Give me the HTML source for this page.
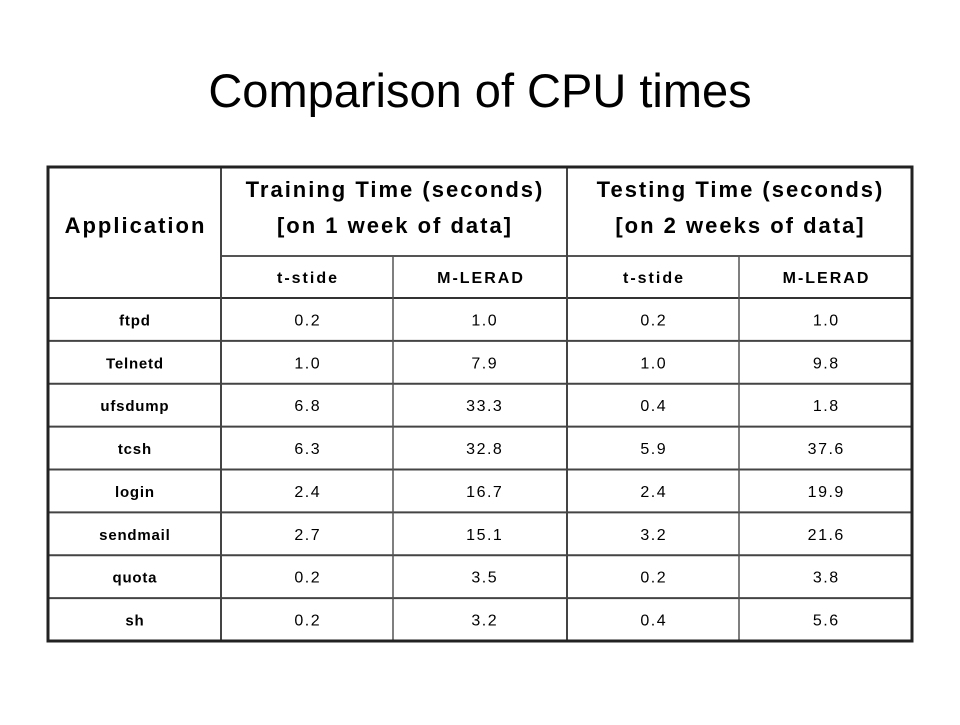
<!DOCTYPE html>
<html><head><meta charset="utf-8"><style>
body{margin:0;background:#fff;width:960px;height:720px;overflow:hidden;font-family:"Liberation Sans",Arial,sans-serif}
</style></head><body>
<svg width="960" height="720" xmlns="http://www.w3.org/2000/svg" font-family="Liberation Sans, Arial, sans-serif">
<text x="480" y="107" text-anchor="middle" font-size="47" fill="#000">Comparison of CPU times</text>
<g id="grid"></g>
<g id="cells"></g>
</svg>
<script>
const apps=["ftpd","Telnetd","ufsdump","tcsh","login","sendmail","quota","sh"];
const trainTstide=["0.2","1.0","6.8","6.3","2.4","2.7","0.2","0.2"];
const trainMlerad=["1.0","7.9","33.3","32.8","16.7","15.1","3.5","3.2"];
const testTstide=["0.2","1.0","0.4","5.9","2.4","3.2","0.2","0.4"];
const testMlerad=["1.0","9.8","1.8","37.6","19.9","21.6","3.8","5.6"];
const NS="http://www.w3.org/2000/svg";
const grid=document.getElementById('grid'),cells=document.getElementById('cells');
const L=48,R=912,T=167,H1=256,H2=298,rowH=(641-298)/apps.length;
const B=H2+rowH*apps.length;
const cx=[221,393,567,739];
function line(x1,y1,x2,y2,w,c,name){const l=document.createElementNS(NS,'line');
l.setAttribute('x1',x1);l.setAttribute('y1',y1);l.setAttribute('x2',x2);l.setAttribute('y2',y2);
l.setAttribute('stroke',c);l.setAttribute('stroke-width',w);


grid.appendChild(l);}
function txt(x,y,s,size,bold,ls,name){const t=document.createElementNS(NS,'text');
t.setAttribute('x',x+ls/2);t.setAttribute('y',y);t.setAttribute('text-anchor','middle');
t.setAttribute('font-size',size);if(bold)t.setAttribute('font-weight','bold');
t.setAttribute('letter-spacing',ls);t.textContent=s;


cells.appendChild(t);}
line(L,H2,R,H2,2,'#333','header-bottom-line');
line(cx[0],H1,R,H1,2,'#555','group-header-line');
for(let i=1;i<apps.length;i++)line(L,H2+rowH*i,R,H2+rowH*i,2,'#444','row-line');
line(cx[0],T,cx[0],B,2,'#444','col-line');
line(cx[2],T,cx[2],B,2,'#444','col-line');
line(cx[1],H1,cx[1],B,1.5,'#555','col-line');
line(cx[3],H1,cx[3],B,1.5,'#555','col-line');
const r=document.createElementNS(NS,'rect');
r.setAttribute('x',L);r.setAttribute('y',T);r.setAttribute('width',R-L);r.setAttribute('height',B-T);
r.setAttribute('fill','none');r.setAttribute('stroke','#222');r.setAttribute('stroke-width',3);


grid.appendChild(r);
txt((L+cx[0])/2,233,"Application",22,true,2,'application-header');
txt((cx[0]+cx[2])/2,197,"Training Time (seconds)",22,true,2,'training-header');
txt((cx[0]+cx[2])/2,233,"[on 1 week of data]",22,true,2,'training-subheader');
txt((cx[2]+R)/2,197,"Testing Time (seconds)",22,true,2,'testing-header');
txt((cx[2]+R)/2,233,"[on 2 weeks of data]",22,true,2,'testing-subheader');
const subs=["t-stide","M-LERAD","t-stide","M-LERAD"];
const subX=[(cx[0]+cx[1])/2,(cx[1]+cx[2])/2,(cx[2]+cx[3])/2,(cx[3]+R)/2];
subs.forEach((s,i)=>txt(subX[i],283,s,16,true,2,'column-header'));
const cols=[trainTstide,trainMlerad,testTstide,testMlerad];
apps.forEach((a,i)=>{const y=H2+rowH*i+rowH/2+6;
txt((L+cx[0])/2,y,a,15,true,0.8,'row-label');
cols.forEach((c,j)=>txt(subX[j]+(j==1?4:0),y,c[i],16,false,1.5,'value-cell'));});
</script>
</body></html>
